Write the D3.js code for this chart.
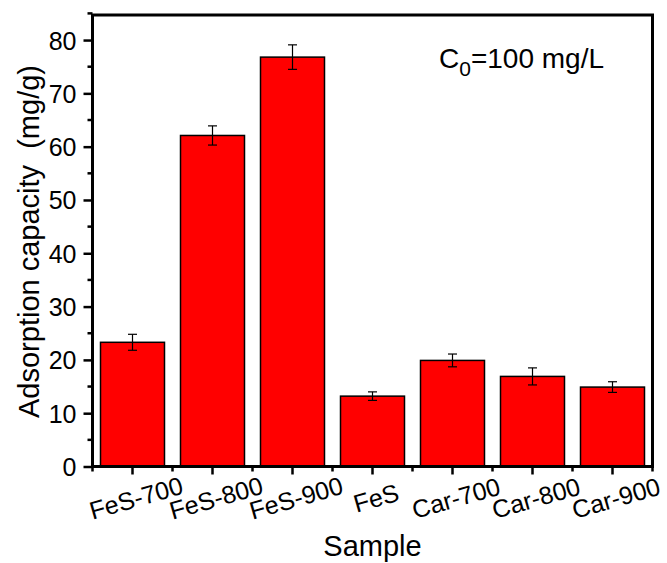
<!DOCTYPE html>
<html>
<head>
<meta charset="utf-8">
<script src="https://cdn.jsdelivr.net/npm/d3@7"></script>
<style>
	body { margin: 0; background: #fff; }
	text { font-family: Arial, "Liberation Sans", sans-serif; fill: #000; }
</style>
</head>
<body>
<svg width="667" height="563"></svg>
<script>
var samples = ["FeS-700", "FeS-800", "FeS-900", "FeS", "Car-700", "Car-800", "Car-900"];
var capacity = [23.3, 62.1, 76.8, 13.2, 19.9, 16.9, 14.9];
var errors = [1.5, 1.8, 2.3, 0.8, 1.2, 1.6, 1.0];
var yTicks = [0, 10, 20, 30, 40, 50, 60, 70, 80];

var svg = d3.select("svg");
var plotLeft = 92.5, plotRight = 652.5, plotTop = 15, plotBottom = 466.5;

var x = d3.scaleBand()
	.domain(samples)
	.range([plotLeft, plotRight])
	.paddingInner(0.2)
	.paddingOuter(0.1);

var y = d3.scaleLinear()
	.domain([0, 84.7])
	.range([plotBottom, plotTop]);

// bars
svg.append("g")
	.selectAll("rect")
	.data(samples)
	.enter()
	.append("rect")
	.attr("x", function(d) { return x(d); })
	.attr("y", function(d, i) { return y(capacity[i]); })
	.attr("width", x.bandwidth())
	.attr("height", function(d, i) { return plotBottom - y(capacity[i]); })
	.attr("fill", "#ff0000")
	.attr("stroke", "#000")
	.attr("stroke-width", 1.5);

// error bars
var err = svg.append("g")
	.attr("stroke", "#000")
	.attr("stroke-width", 1.2);
samples.forEach(function(d, i) {
	var cx = x(d) + x.bandwidth() / 2;
	var hi = y(capacity[i] + errors[i]);
	var lo = y(capacity[i] - errors[i]);
	err.append("line").attr("x1", cx).attr("x2", cx).attr("y1", hi).attr("y2", lo);
	err.append("line").attr("x1", cx - 4.5).attr("x2", cx + 4.5).attr("y1", hi).attr("y2", hi);
	err.append("line").attr("x1", cx - 4.5).attr("x2", cx + 4.5).attr("y1", lo).attr("y2", lo);
});

// y axis
var yAxis = svg.append("g")
	.attr("transform", "translate(" + plotLeft + ",0)")
	.call(d3.axisLeft(y).tickValues(yTicks).tickSize(9).tickPadding(7).tickFormat(d3.format("d")));
yAxis.select(".domain").remove();
yAxis.selectAll(".tick line").attr("stroke-width", 2.5);
yAxis.selectAll(".tick text").style("font-size", "25px").attr("dy", "0.36em");

// y minor ticks
svg.append("g")
	.selectAll("line")
	.data(yTicks.map(function(t) { return t + 5; }))
	.enter()
	.append("line")
	.attr("x1", plotLeft - 5)
	.attr("x2", plotLeft)
	.attr("y1", function(d) { return y(d); })
	.attr("y2", function(d) { return y(d); })
	.attr("stroke", "#000")
	.attr("stroke-width", 2.5);

// x axis
var xAxis = svg.append("g")
	.attr("transform", "translate(0," + plotBottom + ")")
	.call(d3.axisBottom(x).tickSize(8).tickPadding(6));
xAxis.select(".domain").remove();
xAxis.selectAll(".tick line").attr("stroke-width", 2.5);
xAxis.selectAll(".tick text")
	.style("font-size", "25px")
	.attr("text-anchor", "middle")
	.attr("dy", null)
	.attr("y", 0)
	.attr("transform", "translate(6,40) rotate(-16)");

// x minor ticks at category boundaries
var step = x.step();
svg.append("g")
	.selectAll("line")
	.data(d3.range(samples.length + 1))
	.enter()
	.append("line")
	.attr("x1", function(i) { return plotLeft + i * step; })
	.attr("x2", function(i) { return plotLeft + i * step; })
	.attr("y1", plotBottom)
	.attr("y2", plotBottom + 5)
	.attr("stroke", "#000")
	.attr("stroke-width", 2.5);

// frame
svg.append("rect")
	.attr("x", plotLeft)
	.attr("y", plotTop)
	.attr("width", plotRight - plotLeft)
	.attr("height", plotBottom - plotTop)
	.attr("fill", "none")
	.attr("stroke", "#000")
	.attr("stroke-width", 3);

// titles
svg.append("text")
	.attr("transform", "translate(39,241.5) rotate(-90)")
	.attr("text-anchor", "middle")
	.style("font-size", "29px")
	.style("white-space", "pre")
	.text("Adsorption capacity  (mg/g)");

svg.append("text")
	.attr("x", 372.5)
	.attr("y", 556)
	.attr("text-anchor", "middle")
	.style("font-size", "29px")
	.text("Sample");

var note = svg.append("text")
	.attr("x", 439)
	.attr("y", 68)
	.style("font-size", "28px");
note.append("tspan").text("C");
note.append("tspan").attr("dy", 8).style("font-size", "21px").text("0");
note.append("tspan").attr("dy", -8).text("=100 mg/L");
</script>
</body>
</html>
